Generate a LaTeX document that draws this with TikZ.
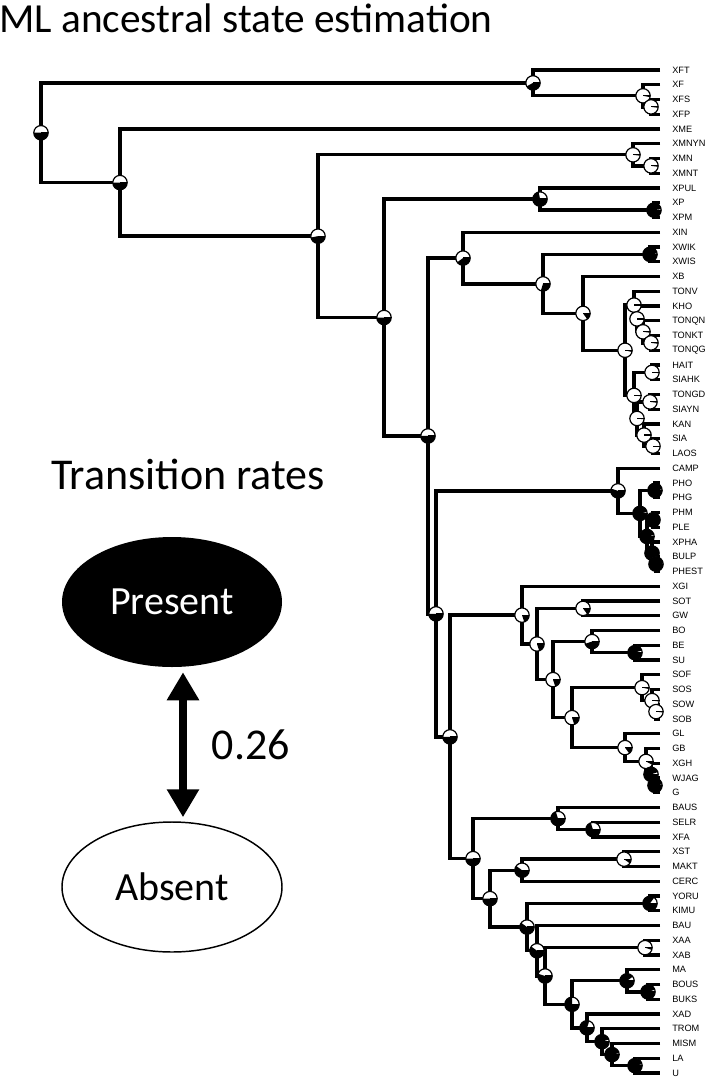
\documentclass[tikz,border=0pt]{standalone}
\usepackage{fontspec}
\setmainfont{Carlito}
\newfontfamily\tipfont{Liberation Sans}
\usetikzlibrary{arrows.meta,calc,shapes.geometric}
\newcommand{\mypie}[2]{%
  \pgfmathsetmacro{\pieang}{360*(1-#2)}%
  \fill[white] (#1) circle[radius=5.4pt];
  \fill[black] (#1) -- ++(\pieang:5.4pt) arc[start angle=\pieang, end angle=360, radius=5.4pt] -- cycle;
  \draw[line width=0.9pt] (#1) circle[radius=5.4pt];
  \draw[line width=0.9pt] (#1) -- ++(0:5.4pt);
}
\begin{document}
\begin{tikzpicture}[x=0.75pt,y=-0.75pt,
  edge/.style={line width=2.5pt, line join=miter},
  tiplabel/.style={anchor=west, inner sep=0pt, font=\tipfont\fontsize{6.9pt}{7pt}\selectfont},
  title/.style={anchor=base west, inner sep=0pt, font=\fontsize{31pt}{36pt}\selectfont},
  legendtext/.style={inner sep=0pt, font=\fontsize{33pt}{38pt}\selectfont},
  state/.style={ellipse, minimum width=165pt, minimum height=97.5pt, inner sep=0pt, font=\fontsize{30pt}{35pt}\selectfont},
  rate/.style={line width=6pt, {Triangle[length=21pt,width=23pt]}-{Triangle[length=21pt,width=23pt]}}]
\useasboundingbox (0,0) rectangle (709,1077);
\node[title] (title) at (-1,33) {ML ancestral state estimation};
\node[legendtext] (trans) at (188,474) {Transition rates};
\node[state, fill=black, text=white] (present) at (172,602) {Present};
\node[state, draw=black, line width=1.1pt, fill=white] (absent) at (172,887) {Absent};
\draw[rate] ($(present.south)+(11,5)$) -- ($(absent.north)+(11,-4)$);
\node[legendtext] (rateval) at (251,745) {0.26};
\begin{scope}[y=-11.0625pt, yshift=-52.5pt]
\foreach \nm [count=\i from 0] in {XFT,XF,XFS,XFP,XME,XMNYN,XMN,XMNT,XPUL,XP,XPM,XIN,XWIK,XWIS,XB,TONV,KHO,TONQN,TONKT,TONQG,HAIT,SIAHK,TONGD,SIAYN,KAN,SIA,LAOS,CAMP,PHO,PHG,PHM,PLE,XPHA,BULP,PHEST,XGI,SOT,GW,BO,BE,SU,SOF,SOS,SOW,SOB,GL,GB,XGH,WJAG,G,BAUS,SELR,XFA,XST,MAKT,CERC,YORU,KIMU,BAU,XAA,XAB,MA,BOUS,BUKS,XAD,TROM,MISM,LA,U}{
  \coordinate (\nm) at (660,\i);
  \node[tiplabel] (l\nm) at (672,\i) {\nm};
}
\foreach \n/\x/\y in {nR/41/4.2538, nA/533/0.875, nA2/643/1.75, nA3/651/2.5,
  nB/120/7.6326, nC/318/11.2651, nCm/633/5.75, nCm2/651/6.5,
  nD/384/16.7802, nDp/540/8.75, nDp2/654/9.5, nE/428/24.8104,
  nF/463/12.75, nF2/543/14.5, nFw/650/12.5, nF3/583/16.5, nF4/625/19.0,
  nT1/634/15.9375, nT2/637/16.875, nT3/643/17.75, nT4/651/18.5,
  nS1/634/22.0625, nSh/652/20.5, nS2/637/23.625, nSt/650/22.5, nS3/644/24.75, nS4/653/25.5,
  nG/436/36.8708, nPc/618/28.5313, nP/640/30.0625, nPp/655/28.5, nP2/647/31.625,
  nPm/653/30.5, nP3/652/32.75, nP4/656/33.5,
  nH/450/45.2104, nI/522/36.957, nI2/537/38.9141, nIs/583/36.5, nI3/553/41.3281,
  nIb/592/38.75, nIb2/635/39.5, nI4/572/43.9063, nSo/642/41.875, nSo2/652/42.75, nSo3/656/43.5,
  nGl/625/45.9375, nGl2/646/46.875, nGl3/651/47.75, nGl4/655/48.5,
  nJ/473/53.4639, nJb/558/50.75, nJb2/593/51.5, nK/490/56.1777, nKx/522/54.25, nKx2/624/53.5,
  nL/527/58.1055, nLy/650/56.5, nM/537/59.7109, nN/545/61.4219, nNa/645/59.5,
  nO/572/63.3438, nOm/627/61.75, nOm2/648/62.5, nOx/587/64.9375, nOx2/602/65.875,
  nOx3/612/66.75, nOx4/635/67.5}{
  \coordinate (\n) at (\x,\y);
}
\foreach \n/\a/\b in {nR/nA/nB, nA/XFT/nA2, nA2/XF/nA3, nA3/XFS/XFP,
  nB/XME/nC, nC/nCm/nD, nCm/XMNYN/nCm2, nCm2/XMN/XMNT,
  nD/nDp/nE, nDp/XPUL/nDp2, nDp2/XP/XPM, nE/nF/nG,
  nF/XIN/nF2, nF2/nFw/nF3, nFw/XWIK/XWIS, nF3/XB/nF4, nF4/nT1/nS1,
  nT1/TONV/nT2, nT2/KHO/nT3, nT3/TONQN/nT4, nT4/TONKT/TONQG,
  nS1/nSh/nS2, nSh/HAIT/SIAHK, nS2/nSt/nS3, nSt/TONGD/SIAYN, nS3/KAN/nS4, nS4/SIA/LAOS,
  nG/nPc/nH, nPc/CAMP/nP, nP/nPp/nP2, nPp/PHO/PHG, nP2/nPm/nP3, nPm/PHM/PLE, nP3/XPHA/nP4, nP4/BULP/PHEST,
  nH/nI/nJ, nI/XGI/nI2, nI2/nIs/nI3, nIs/SOT/GW, nI3/nIb/nI4, nIb/BO/nIb2, nIb2/BE/SU,
  nI4/nSo/nGl, nSo/SOF/nSo2, nSo2/SOS/nSo3, nSo3/SOW/SOB,
  nGl/GL/nGl2, nGl2/GB/nGl3, nGl3/XGH/nGl4, nGl4/WJAG/G,
  nJ/nJb/nK, nJb/BAUS/nJb2, nJb2/SELR/XFA, nK/nKx/nL, nKx/nKx2/CERC, nKx2/XST/MAKT,
  nL/nLy/nM, nLy/YORU/KIMU, nM/BAU/nN, nN/nNa/nO, nNa/XAA/XAB,
  nO/nOm/nOx, nOm/MA/nOm2, nOm2/BOUS/BUKS, nOx/XAD/nOx2, nOx2/TROM/nOx3, nOx3/MISM/nOx4, nOx4/LA/U}{
  \draw[edge] (\a) -| (\n) |- (\b);
}
\foreach \n/\p in {nR/0.5, nA/0.42, nA2/0.03, nA3/0.02, nB/0.5, nC/0.47, nCm/0.02, nCm2/0.02,
  nD/0.5, nDp/0.72, nDp2/0.98, nE/0.5, nF/0.4, nF2/0.3, nFw/0.98, nF3/0.15, nF4/0.04,
  nT1/0.02, nT2/0.02, nT3/0.02, nT4/0.02, nS1/0.02, nSh/0.02, nS2/0.02, nSt/0.02, nS3/0.02, nS4/0.02,
  nG/0.5, nPc/0.55, nP/0.97, nPp/0.98, nP2/0.97, nPm/0.98, nP3/0.98, nP4/0.99,
  nH/0.5, nI/0.2, nI2/0.2, nIs/0.15, nI3/0.2, nIb/0.45, nIb2/0.95, nI4/0.2,
  nSo/0.03, nSo2/0.02, nSo3/0.02, nGl/0.15, nGl2/0.08, nGl3/0.95, nGl4/0.98,
  nJ/0.5, nJb/0.7, nJb2/0.7, nK/0.5, nKx/0.6, nKx2/0.1, nL/0.6, nLy/0.85, nM/0.6,
  nN/0.55, nNa/0.05, nO/0.75, nOm/0.9, nOm2/0.95, nOx/0.8, nOx2/0.95, nOx3/0.97, nOx4/0.97}{
  \mypie{\n}{\p}
}
\end{scope}
\end{tikzpicture}
\end{document}
